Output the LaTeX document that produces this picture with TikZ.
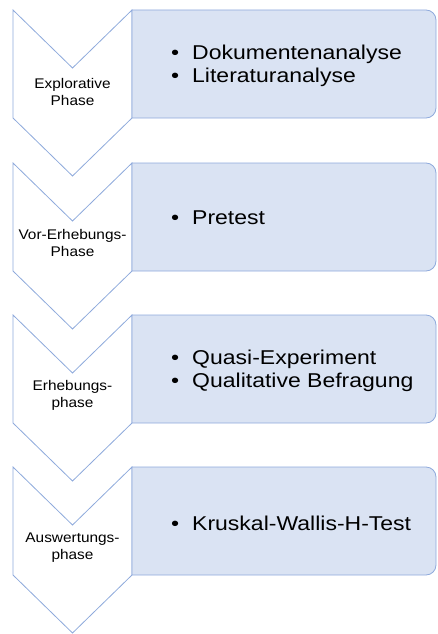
\documentclass[tikz,border=0pt]{standalone}
\usepackage{fontspec}
\setmainfont{Liberation Sans}
\newfontfamily\phasefont[FakeStretch=1.1]{Liberation Sans}
\newfontfamily\itemfont[FakeStretch=1.15]{Liberation Sans}
\usetikzlibrary{positioning}

\definecolor{kastenblau}{RGB}{218,227,243}
\definecolor{randblau}{RGB}{143,170,220}
\newcommand{\punkt}{\makebox[21pt][l]{\textbullet}}

\begin{document}
\begin{tikzpicture}[x=1pt, y=-1pt,
    pfeil/.style={
        draw=randblau,
        fill=white,
        line width=0.8pt,
        line join=miter,
    },
    kasten/.style={pfeil, fill=kastenblau}, % Inhaltskasten rechts
    phase/.style={
        align=center,
        inner sep=0pt,
        font=\phasefont\fontsize{14}{17}\selectfont,
    },
    punkte/.style={
        align=left,
        anchor=west,
        inner sep=0pt,
        font=\itemfont\fontsize{20}{23}\selectfont,
    }
]
\useasboundingbox (0,0) rectangle (437,634);

% Pfeile (Chevrons)
\draw[pfeil] (13,10) -- (72.5,68) -- (132,10) -- (132,118) -- (72.5,176) -- (13,118) -- cycle;
\draw[pfeil] (13,163) -- (72.5,221) -- (132,163) -- (132,271) -- (72.5,329) -- (13,271) -- cycle;
\draw[pfeil] (13,315) -- (72.5,373) -- (132,315) -- (132,423) -- (72.5,481) -- (13,423) -- cycle;
\draw[pfeil] (13,467) -- (72.5,525) -- (132,467) -- (132,575) -- (72.5,633) -- (13,575) -- cycle;

% Kaesten, nur rechts abgerundet
\draw[kasten] (132,10) -- (426,10) arc[start angle=-90, end angle=0, radius=10] -- (436,108) arc[start angle=0, end angle=90, radius=10] -- (132,118) -- cycle;
\draw[kasten] (132,163) -- (426,163) arc[start angle=-90, end angle=0, radius=10] -- (436,261) arc[start angle=0, end angle=90, radius=10] -- (132,271) -- cycle;
\draw[kasten] (132,315) -- (426,315) arc[start angle=-90, end angle=0, radius=10] -- (436,413) arc[start angle=0, end angle=90, radius=10] -- (132,423) -- cycle;
\draw[kasten] (132,467) -- (426,467) arc[start angle=-90, end angle=0, radius=10] -- (436,565) arc[start angle=0, end angle=90, radius=10] -- (132,575) -- cycle;

% Phasen
\node[phase] (explorativ) at (72.5,91.5) {Explorative\\Phase};
\node[phase] (vorerhebung) at (72.5,243) {Vor-Erhebungs-\\Phase};
\node[phase] (erhebung) at (72.5,395) {Erhebungs-\\phase};
\node[phase] (auswertung) at (72.5,548) {Auswertungs-\\phase};

% Inhalte
\node[punkte] (analysen) at (171,66) {\punkt Dokumentenanalyse\\\punkt Literaturanalyse};
\node[punkte] (pretest) at (171,218) {\punkt Pretest};
\node[punkte] (experiment) at (171,371) {\punkt Quasi-Experiment\\\punkt Qualitative Befragung};
\node[punkte] (kruskal) at (171,523) {\punkt Kruskal-Wallis-H-Test};

\end{tikzpicture}
\end{document}
